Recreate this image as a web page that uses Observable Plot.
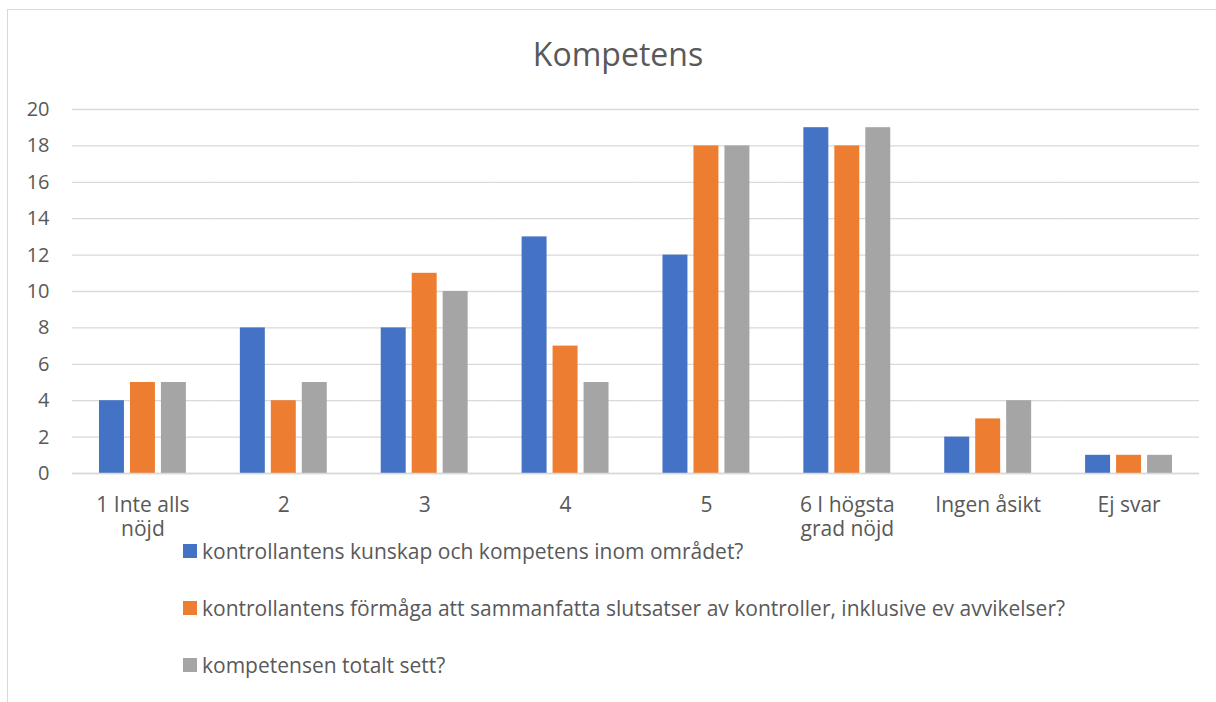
<!DOCTYPE html>
<html>
<head>
<meta charset="utf-8">
<script src="https://cdn.jsdelivr.net/npm/d3@7"></script>
<script src="https://cdn.jsdelivr.net/npm/@observablehq/plot@0.6"></script>
<style>
  html, body { margin: 0; padding: 0; background: #fff; }
  body { width: 1216px; height: 702px; position: relative; overflow: hidden; font-family: "Open Sans", sans-serif; color: #595959; }
  #frame { position: absolute; left: 7px; top: 9px; width: 1240px; height: 720px; border: 1.5px solid #d9d9d9; box-sizing: border-box; }
  #title { position: absolute; left: 0; width: 1236px; top: 32px; text-align: center; font-size: 32px; color: #595959; }
  #chart { position: absolute; left: 0; top: 0; }
  #legend { position: absolute; left: 183px; top: 536px; font-size: 21px; color: #595959; }
  .item { display: flex; align-items: center; height: 30px; margin-bottom: 27px; }
  .sw { width: 14px; height: 14px; margin-right: 5px; }
</style>
</head>
<body>
<div id="frame"></div>
<div id="title">Kompetens</div>
<div id="chart"></div>
<div id="legend"></div>
<script>
const categories = ["1 Inte alls nöjd", "2", "3", "4", "5", "6 I högsta grad nöjd", "Ingen åsikt", "Ej svar"];
const tickLabels = ["1 Inte alls\nnöjd", "2", "3", "4", "5", "6 I högsta\ngrad nöjd", "Ingen åsikt", "Ej svar"];
const seriesNames = [
  "kontrollantens kunskap och kompetens inom området?",
  "kontrollantens förmåga att sammanfatta slutsatser av kontroller, inklusive ev avvikelser?",
  "kompetensen totalt sett?"
];
const kunskap = [4, 8, 8, 13, 12, 19, 2, 1];
const formaga = [5, 4, 11, 7, 18, 18, 3, 1];
const totalt  = [5, 5, 10, 5, 18, 19, 4, 1];
const colors = ["#4472C4", "#ED7D31", "#A5A5A5"];
const yTicks = [0, 2, 4, 6, 8, 10, 12, 14, 16, 18, 20];

const seriesValues = [kunskap, formaga, totalt];
const data = [];
categories.forEach((c, i) => {
  seriesNames.forEach((s, j) => data.push({cat: c, series: s, value: seriesValues[j][i]}));
});

const chart = Plot.plot({
  width: 1216,
  height: 560,
  marginTop: 109,
  marginBottom: 87,
  marginLeft: 72,
  marginRight: 17,
  style: {fontFamily: "Open Sans", fontSize: "20px", color: "#595959", background: "transparent", overflow: "visible"},
  fx: {domain: categories, padding: 0, round: false, label: null, axis: null},
  x: {domain: seriesNames, paddingInner: 0.194, paddingOuter: 0.871, round: false, axis: null},
  y: {domain: [0, 20], label: null, axis: null},
  color: {domain: seriesNames, range: colors},
  marks: [
    Plot.gridY(yTicks, {stroke: "#d9d9d9", strokeOpacity: 1, strokeWidth: 1.3}),
    Plot.axisY(yTicks, {tickSize: 0, tickPadding: 23, label: null, fill: "#595959", fontSize: 20}),
    Plot.axisFx({anchor: "bottom", tickSize: 0, tickPadding: 21, label: null, fill: "#595959", fontSize: 21, lineHeight: 1.15,
      tickFormat: d => tickLabels[categories.indexOf(d)]}),
    Plot.barY(data, {fx: "cat", x: "series", y: "value", fill: "series"}),
    Plot.ruleY([0], {stroke: "#d9d9d9", strokeWidth: 1.5})
  ]
});
document.getElementById("chart").appendChild(chart);

const legend = document.getElementById("legend");
seriesNames.forEach((s, j) => {
  const item = document.createElement("div");
  item.className = "item";
  const sw = document.createElement("span");
  sw.className = "sw";
  sw.style.background = colors[j];
  const t = document.createElement("span");
  t.textContent = s;
  item.appendChild(sw);
  item.appendChild(t);
  legend.appendChild(item);
});
</script>
</body>
</html>
